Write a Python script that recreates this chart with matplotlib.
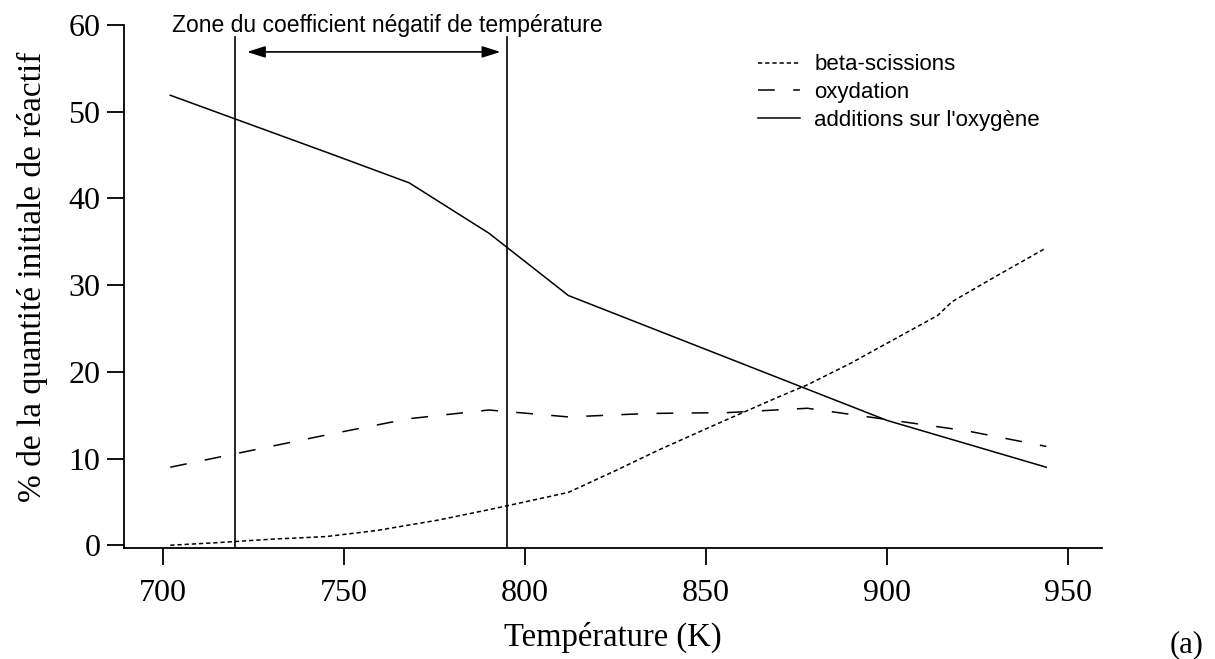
import matplotlib.pyplot as plt

# temperatures (K) and % of initial reactant
T_beta = [702, 715, 730, 745, 759, 776, 790, 800, 812, 826, 837, 852, 870, 878, 890, 900, 914, 918, 930, 944]
beta = [0.0, 0.3, 0.7, 1.0, 1.7, 2.9, 4.1, 5.0, 6.1, 8.8, 11.0, 13.8, 17.1, 18.5, 21.0, 23.3, 26.5, 28.1, 31.0, 34.3]

T_oxy = [702, 746, 768, 790, 812, 834, 856, 878, 900, 922, 944]
oxy = [9.0, 12.8, 14.6, 15.6, 14.8, 15.2, 15.3, 15.8, 14.5, 13.2, 11.4]

T_add = [702, 746, 768, 790, 812, 900, 944]
add = [51.9, 45.2, 41.8, 36.0, 28.8, 14.4, 9.0]

labels = ["beta-scissions", "oxydation", "additions sur l'oxygène"]
ntc_zone = (720, 795)
xticks = [700, 750, 800, 850, 900, 950]
yticks = [0, 10, 20, 30, 40, 50, 60]

serif = 'Liberation Serif'
sans = 'Liberation Sans'

fig = plt.figure(figsize=(12.15, 6.59), dpi=100)
ax = fig.add_axes([0.102, 0.168, 0.805, 0.794])

lw = 1.1
ax.plot(T_beta, beta, color='k', lw=lw, dashes=(2.8, 1.9), label=labels[0])
ax.plot(T_oxy, oxy, color='k', lw=lw, dashes=(11, 12), label=labels[1])
ax.plot(T_add, add, color='k', lw=lw, label=labels[2])

# zone du coefficient negatif de temperature
for t in ntc_zone:
    ax.plot([t, t], [-0.35, 58.6], color='k', lw=1.2)
ax.annotate('', xy=(793.2, 56.9), xytext=(723.2, 56.9),
            arrowprops=dict(arrowstyle='<|-|>,head_length=1.1,head_width=0.35',
                            color='k', lw=1.2, shrinkA=0, shrinkB=0))
ax.text(761.9, 60.0, 'Zone du coefficient négatif de température',
        ha='center', va='center', fontsize=16.5, family=sans)

ax.set_xlim(689.2, 959.4)
ax.set_ylim(-0.35, 60)
ax.set_xticks(xticks)
ax.set_yticks(yticks)

for s in ['top', 'right']:
    ax.spines[s].set_visible(False)
for s in ['left', 'bottom']:
    ax.spines[s].set_linewidth(1.3)

ax.tick_params(axis='x', direction='out', length=12, width=1.3, pad=10, labelsize=23)
ax.tick_params(axis='y', direction='out', length=12, width=1.3, pad=5, labelsize=23)
for lab in ax.get_xticklabels() + ax.get_yticklabels():
    lab.set_family(serif)

ax.set_xlabel('Température (K)', family=serif, fontsize=23.5)
ax.xaxis.set_label_coords(0.5, -0.17)
ax.xaxis.label.set_va('center')
ax.set_ylabel('% de la quantité initiale de réactif', family=serif, fontsize=24)
ax.yaxis.set_label_coords(-0.094, 0.518)
ax.yaxis.label.set_va('center')

leg = ax.legend(loc='upper left', bbox_to_anchor=(0.648, 0.944), frameon=False,
                prop={'family': sans, 'size': 16}, handlelength=1.9,
                handletextpad=0.65, labelspacing=0.3, borderaxespad=0, borderpad=0)

fig.text(0.977, 0.021, '(a)', family=serif, fontsize=22, ha='center', va='center')

fig.savefig('out.png', dpi=100)
